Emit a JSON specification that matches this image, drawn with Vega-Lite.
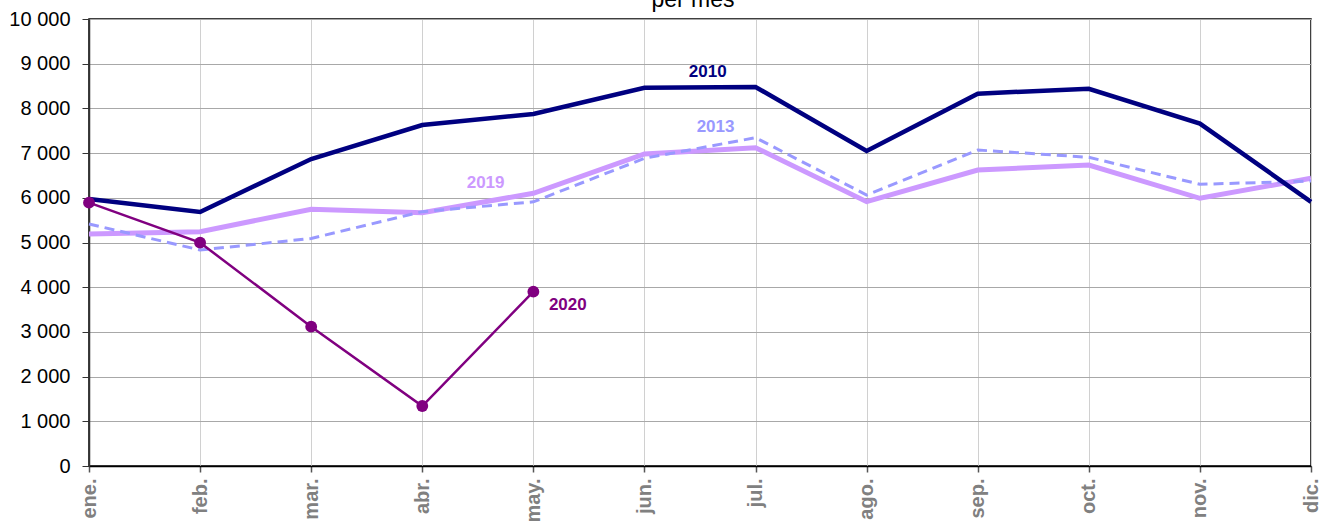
{
  "$schema": "https://vega.github.io/schema/vega-lite/v6.json",
  "width": 1222,
  "height": 447,
  "autosize": "none",
  "padding": {"left": 89, "top": 19, "right": 8, "bottom": 55},
  "background": "white",
  "title": {"text": "per mes", "fontSize": 23, "font": "Liberation Sans", "fontWeight": "normal", "color": "black", "baseline": "alphabetic", "offset": 0, "anchor": "middle", "dx": -7, "dy": 21},
  "config": {
    "view": {"stroke": "black", "strokeWidth": 1.5},
    "font": "Liberation Sans"
  },
  "datasets": {
    "series": [
      {"serie": "2010", "mes": 1, "valor": 5973},
      {"serie": "2010", "mes": 2, "valor": 5682},
      {"serie": "2010", "mes": 3, "valor": 6868},
      {"serie": "2010", "mes": 4, "valor": 7628},
      {"serie": "2010", "mes": 5, "valor": 7875},
      {"serie": "2010", "mes": 6, "valor": 8460},
      {"serie": "2010", "mes": 7, "valor": 8480},
      {"serie": "2010", "mes": 8, "valor": 7047},
      {"serie": "2010", "mes": 9, "valor": 8330},
      {"serie": "2010", "mes": 10, "valor": 8440},
      {"serie": "2010", "mes": 11, "valor": 7660},
      {"serie": "2010", "mes": 12, "valor": 5910},
      {"serie": "2013", "mes": 1, "valor": 5414},
      {"serie": "2013", "mes": 2, "valor": 4832},
      {"serie": "2013", "mes": 3, "valor": 5090},
      {"serie": "2013", "mes": 4, "valor": 5690},
      {"serie": "2013", "mes": 5, "valor": 5910},
      {"serie": "2013", "mes": 6, "valor": 6883},
      {"serie": "2013", "mes": 7, "valor": 7345},
      {"serie": "2013", "mes": 8, "valor": 6063},
      {"serie": "2013", "mes": 9, "valor": 7069},
      {"serie": "2013", "mes": 10, "valor": 6906},
      {"serie": "2013", "mes": 11, "valor": 6302},
      {"serie": "2013", "mes": 12, "valor": 6376},
      {"serie": "2019", "mes": 1, "valor": 5190},
      {"serie": "2019", "mes": 2, "valor": 5242},
      {"serie": "2019", "mes": 3, "valor": 5743},
      {"serie": "2019", "mes": 4, "valor": 5667},
      {"serie": "2019", "mes": 5, "valor": 6101},
      {"serie": "2019", "mes": 6, "valor": 6980},
      {"serie": "2019", "mes": 7, "valor": 7121},
      {"serie": "2019", "mes": 8, "valor": 5913},
      {"serie": "2019", "mes": 9, "valor": 6622},
      {"serie": "2019", "mes": 10, "valor": 6734},
      {"serie": "2019", "mes": 11, "valor": 5989},
      {"serie": "2019", "mes": 12, "valor": 6436},
      {"serie": "2020", "mes": 1, "valor": 5891},
      {"serie": "2020", "mes": 2, "valor": 4996},
      {"serie": "2020", "mes": 3, "valor": 3117},
      {"serie": "2020", "mes": 4, "valor": 1342},
      {"serie": "2020", "mes": 5, "valor": 3900}
    ],
    "etiquetas": [
      {"serie": "2010", "mes": 6.57, "valor": 8814},
      {"serie": "2013", "mes": 6.64, "valor": 7584},
      {"serie": "2019", "mes": 4.57, "valor": 6331},
      {"serie": "2020", "mes": 5.31, "valor": 3602}
    ]
  },
  "encoding": {
    "x": {
      "field": "mes", "type": "quantitative",
      "scale": {"domain": [1, 12], "nice": false, "zero": false},
      "axis": {
        "title": null,
        "values": [1,2,3,4,5,6,7,8,9,10,11,12],
        "labelExpr": "['ene.','feb.','mar.','abr.','may.','jun.','jul.','ago.','sep.','oct.','nov.','dic.'][datum.value - 1]",
        "labelAngle": 270,
        "labelAlign": "right",
        "labelBaseline": "middle",
        "labelFontSize": 20,
        "labelFontWeight": "bold",
        "labelColor": "#808080",
        "labelPadding": 6,
        "tickSize": 6,
        "tickColor": "#555555",
        "tickWidth": 1.5,
        "domainColor": "black",
        "domainWidth": 1.5,
        "gridColor": "#d0d0d0",
        "gridWidth": 1,
        "labelFlush": false,
        "labelOverlap": false
      }
    },
    "y": {
      "field": "valor", "type": "quantitative",
      "scale": {"domain": [0, 10000], "nice": false},
      "axis": {
        "title": null,
        "values": [0,1000,2000,3000,4000,5000,6000,7000,8000,9000,10000],
        "labelExpr": "replace(format(datum.value, ',d'), ',', ' ')",
        "labelFontSize": 20,
        "labelColor": "black",
        "labelPadding": 12,
        "tickSize": 7,
        "tickColor": "#333333",
        "domainColor": "#333333",
        "domainWidth": 1.5,
        "gridColor": "#a8a8a8",
        "gridWidth": 1,
        "labelFlush": false
      }
    }
  },
  "layer": [
    {
      "data": {"name": "series"},
      "transform": [{"filter": "datum.serie == '2019'"}],
      "mark": {"type": "line", "color": "#CC99FF", "strokeWidth": 5}
    },
    {
      "data": {"name": "series"},
      "transform": [{"filter": "datum.serie == '2013'"}],
      "mark": {"type": "line", "color": "#9999FF", "strokeWidth": 3, "strokeDash": [10, 6]}
    },
    {
      "data": {"name": "series"},
      "transform": [{"filter": "datum.serie == '2010'"}],
      "mark": {"type": "line", "color": "#000080", "strokeWidth": 4.5}
    },
    {
      "data": {"name": "series"},
      "transform": [{"filter": "datum.serie == '2020'"}],
      "mark": {"type": "line", "color": "#800080", "strokeWidth": 2.5}
    },
    {
      "data": {"name": "series"},
      "transform": [{"filter": "datum.serie == '2020'"}],
      "mark": {"type": "point", "filled": true, "color": "#800080", "size": 140, "opacity": 1}
    },
    {
      "data": {"name": "etiquetas"},
      "mark": {"type": "text", "fontSize": 17, "fontWeight": "bold", "align": "center", "baseline": "middle"},
      "encoding": {
        "text": {"field": "serie"},
        "color": {
          "field": "serie", "type": "nominal",
          "scale": {"domain": ["2010", "2013", "2019", "2020"], "range": ["#000080", "#9999FF", "#CC99FF", "#800080"]},
          "legend": null
        }
      }
    }
  ]
}
